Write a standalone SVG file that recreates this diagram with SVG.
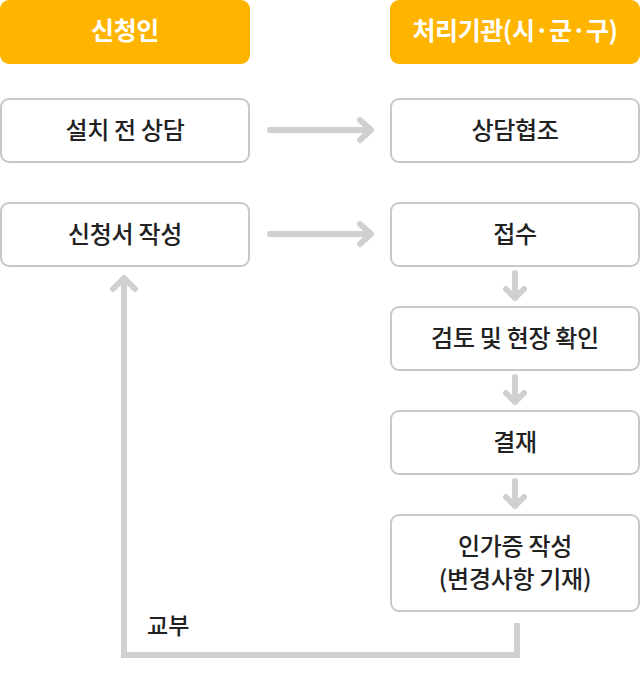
<svg xmlns="http://www.w3.org/2000/svg" width="640" height="680" viewBox="0 0 640 680">
<style>
.hdr{fill:#FFB400}
.box{fill:#fff;stroke:#c8c8c8;stroke-width:2}
.ht{font-family:"Noto Sans CJK KR","Noto Sans",sans-serif;font-size:25px;font-weight:700;fill:#fff;text-anchor:middle;letter-spacing:-0.4px}
.bt{font-family:"Noto Sans CJK KR","Noto Sans",sans-serif;font-size:24px;font-weight:500;fill:#222;text-anchor:middle;letter-spacing:-0.3px}
.ln{fill:none;stroke:#d0d0d0;stroke-width:6;stroke-linecap:round;stroke-linejoin:round}
</style>
<rect width="640" height="680" fill="#fff"/>
<g id="h1"><rect class="hdr" x="0" y="0" width="250" height="64" rx="9"/><text class="ht" x="125" y="40">신청인</text></g>
<g id="h2"><rect class="hdr" x="390" y="0" width="250" height="64" rx="9"/><text class="ht" x="515" y="40">처리기관(시·군·구)</text></g>
<g id="n1"><rect class="box" x="1" y="99" width="248" height="63" rx="8"/><text class="bt" x="125" y="139">설치 전 상담</text></g>
<g id="n2"><rect class="box" x="391" y="99" width="248" height="63" rx="8"/><text class="bt" x="515" y="139">상담협조</text></g>
<g id="n3"><rect class="box" x="1" y="203" width="248" height="63" rx="8"/><text class="bt" x="125" y="243">신청서 작성</text></g>
<g id="n4"><rect class="box" x="391" y="203" width="248" height="63" rx="8"/><text class="bt" x="515" y="243">접수</text></g>
<g id="n5"><rect class="box" x="391" y="307" width="248" height="63" rx="8"/><text class="bt" x="515" y="347">검토 및 현장 확인</text></g>
<g id="n6"><rect class="box" x="391" y="411" width="248" height="63" rx="8"/><text class="bt" x="515" y="451">결재</text></g>
<g id="n7"><rect class="box" x="391" y="515" width="248" height="96" rx="8"/><text class="bt" x="515" y="555">인가증 작성</text><text class="bt" x="515" y="588">(변경사항 기재)</text></g>
<g id="connectors">
<path class="ln" d="M270 130H370M360 120L371 130L360 140"/>
<path class="ln" d="M270 234H370M360 224L371 234L360 244"/>
<path class="ln" d="M515 273V298M506 289L515 298L524 289"/>
<path class="ln" d="M515 377V402M506 393L515 402L524 393"/>
<path class="ln" d="M515 481V506M506 497L515 506L524 497"/>
<path d="M517 623V655H124V280" fill="none" stroke="#d0d0d0" stroke-width="6" stroke-linecap="butt" stroke-linejoin="miter"/>
<path class="ln" d="M113 289L124 278L135 289"/>
<text x="147" y="634" font-family="'Noto Sans CJK KR','Noto Sans',sans-serif" font-size="23" font-weight="500" fill="#222">교부</text>
</g>
</svg>
